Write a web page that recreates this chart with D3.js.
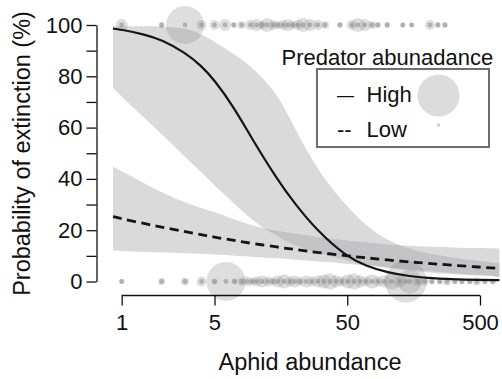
<!DOCTYPE html>
<html>
<head>
<meta charset="utf-8">
<title>Aphid extinction</title>
<script src="https://cdn.jsdelivr.net/npm/d3@7"></script>
<style>
  body { margin: 0; background: #fff; }
  text { font-family: "Liberation Sans", Arial, Helvetica, sans-serif; fill: #111; }
</style>
</head>
<body>
<script>
// fitted curves + 95% bands (x = aphid abundance, y = % extinction)
var curveX    = [0.86, 1, 1.5, 2, 3, 4, 5, 7, 10, 15, 20, 30, 50, 70, 100, 150, 200, 300, 500, 700];
var highFit   = [98.6, 98.2, 96.3, 94.2, 89.3, 84, 78.5, 68, 54, 39.5, 30.5, 19.5, 9.5, 6, 3.5, 2, 1.4, 0.9, 0.6, 0.5];
var highUpper = [99.5, 99.5, 99.5, 99.4, 99, 96.5, 93.5, 88.8, 83, 73, 60, 43, 29, 21.5, 16, 12.5, 11, 9.5, 8, 7];
var highLower = [75.5, 72, 63.5, 57.5, 48.5, 42.5, 37.5, 30.5, 23, 17.5, 14, 11, 8.2, 6.4, 5.4, 4.2, 3.5, 2.8, 2.3, 1.8];
var lowFit    = [25.3, 24.5, 22.5, 21.2, 19.4, 18.2, 17.3, 16, 14.7, 13.4, 12.5, 11.3, 10, 9.2, 8.4, 7.6, 7.1, 6.4, 5.6, 5.1];
var lowUpper  = [44.8, 43, 38.1, 34.7, 30.8, 28.5, 27.2, 24.3, 21.5, 19.6, 18.7, 17.3, 16, 15.2, 14.4, 13.9, 13.6, 13.3, 13, 12.9];
var lowLower  = [12, 11.8, 11.5, 11.3, 11, 10.8, 10.5, 10.1, 9.6, 9, 8.5, 7.8, 6.9, 6.2, 5.5, 4.7, 4.1, 3.3, 2.5, 2];

// raw observations: extinct (100%) and persisting (0%), size = predator abundance
var extinctAphid = [1, 2, 3, 4, 5, 6, 7, 8, 9.3, 10.4, 11.4, 12.4, 13.8, 15, 16.4, 17.9, 19.5, 21.3, 23.2, 26.2, 30, 34, 44, 54, 60, 68, 77, 85, 100, 131, 153, 210, 241, 272];
var extinctPred  = [3.3, 0.8, 32.7, 2.3, 2.3, 3.3, 0.8, 1.5, 2.3, 3.3, 1.5, 4.4, 2.3, 1.5, 2.3, 3.3, 1.5, 2.3, 4.4, 3.3, 2.3, 1.5, 0.8, 2.3, 4.4, 3.3, 1.5, 0.8, 0.8, 0.6, 0.6, 2.3, 0.8, 0.8];
var survAphid = [1, 2, 3, 4, 5, 6.1, 7.1, 8, 8.8, 9.6, 10.4, 11.4, 12.6, 13.8, 15, 16.7, 18.5, 20.2, 22, 24.4, 27.1, 30.1, 33.4, 37, 41.1, 45.6, 50.6, 56.1, 62.3, 69.1, 76.7, 85.1, 94.4, 108, 125, 138, 148, 170, 192, 217, 249, 282, 323, 365, 419, 473, 543, 624];
var survPred  = [0.6, 1.1, 1.5, 2.3, 0.8, 34.5, 0.8, 1.5, 2.3, 1.5, 2.3, 3.3, 2.3, 1.5, 3.3, 4.4, 2.3, 3.3, 1.5, 3.3, 2.3, 3.3, 4.4, 5.8, 3.3, 2.3, 4.4, 5.8, 3.3, 2.3, 4.4, 2.3, 3.3, 5.8, 3.3, 40, 13, 2.3, 1.5, 0.8, 0.8, 1.5, 0.8, 0.8, 0.8, 1.5, 0.8, 0.8];

var xTicks = [1, 5, 50, 500];
var yTicks = [0, 10, 20, 30, 40, 50, 60, 70, 80, 90, 100];
var legendTitle = "Predator abunadance";
var legendLabels = ["High", "Low"];
var legendPred = [40, 0.3];

var W = 502, H = 379;
var font = "'Liberation Sans', Arial, Helvetica, sans-serif";

var svg = d3.select("body").append("svg")
  .attr("width", W)
  .attr("height", H);

var x = d3.scaleLog().domain([1, 500]).range([121.7, 480]);
var y = d3.scaleLinear().domain([0, 100]).range([281.5, 25]);
var r = d3.scaleSqrt().domain([0, 40]).range([0, 21]);

function rows(vals) {
  return curveX.map(function(d, i) { return {x: d, v: vals[i]}; });
}
function bandRows(lo, hi) {
  return curveX.map(function(d, i) { return {x: d, lo: lo[i], hi: hi[i]}; });
}

var area = d3.area()
  .x(function(d) { return x(d.x); })
  .y0(function(d) { return y(d.lo); })
  .y1(function(d) { return y(d.hi); })
  .curve(d3.curveBasis);

var line = d3.line()
  .x(function(d) { return x(d.x); })
  .y(function(d) { return y(d.v); })
  .curve(d3.curveBasis);

// bands
svg.append("path").datum(bandRows(highLower, highUpper))
  .attr("d", area).attr("fill", "#a8a8aa").attr("fill-opacity", 0.42);
svg.append("path").datum(bandRows(lowLower, lowUpper))
  .attr("d", area).attr("fill", "#a8a8aa").attr("fill-opacity", 0.42);

// observations
function drawPoints(aph, pred, val) {
  var pts = aph.map(function(a, i) { return {a: a, p: pred[i]}; });
  var g = svg.append("g");
  g.selectAll("circle.halo").data(pts).enter().append("circle")
    .attr("class", "halo")
    .attr("cx", function(d) { return x(d.a); })
    .attr("cy", y(val))
    .attr("r", function(d) { return r(d.p); })
    .attr("fill", "#8a8a8a").attr("fill-opacity", 0.28);
  g.selectAll("circle.dot").data(pts).enter().append("circle")
    .attr("class", "dot")
    .attr("cx", function(d) { return x(d.a); })
    .attr("cy", y(val))
    .attr("r", 2.4)
    .attr("fill", "#8a8a8a").attr("fill-opacity", 0.55);
}
drawPoints(extinctAphid, extinctPred, 100);
drawPoints(survAphid, survPred, 0);

// fitted lines
svg.append("path").datum(rows(highFit))
  .attr("d", line).attr("fill", "none")
  .attr("stroke", "#151515").attr("stroke-width", 2.2);
svg.append("path").datum(rows(lowFit))
  .attr("d", line).attr("fill", "none")
  .attr("stroke", "#151515").attr("stroke-width", 2.8)
  .attr("stroke-dasharray", "9,5.5");

// axes
var yAxis = svg.append("g")
  .attr("transform", "translate(96.5,0)")
  .call(d3.axisLeft(y).tickValues(yTicks).tickSize(10).tickSizeOuter(0).tickPadding(4)
    .tickFormat(function(d) { return d % 20 === 0 ? d : ""; }));
yAxis.attr("font-size", 22).attr("font-family", font).attr("color", "#111");
yAxis.selectAll("line, path").attr("stroke-width", 1.3);

var xAxis = svg.append("g")
  .attr("transform", "translate(0,295.5)")
  .call(d3.axisBottom(x).tickValues(xTicks).tickSize(10).tickPadding(9)
    .tickFormat(function(d) { return d; }));
xAxis.attr("font-size", 22).attr("font-family", font).attr("color", "#111");
xAxis.select(".domain").remove();
xAxis.selectAll("line").attr("stroke-width", 1.3);
xAxis.append("line")
  .attr("x1", x(1)).attr("x2", x(500))
  .attr("stroke", "#111").attr("stroke-width", 1.3);

// axis titles
svg.append("text")
  .attr("transform", "translate(30,153.5) rotate(-90)")
  .attr("text-anchor", "middle")
  .style("font-size", "23.5px")
  .text("Probability of extinction (%)");

svg.append("text")
  .attr("x", 310).attr("y", 370)
  .attr("text-anchor", "middle")
  .style("font-size", "23.5px")
  .text("Aphid abundance");

// legend
var lg = svg.append("g").attr("id", "legend");
lg.append("text")
  .attr("x", 281.5).attr("y", 65)
  .style("font-size", "22px")
  .text(legendTitle);
lg.append("rect")
  .attr("x", 317).attr("y", 69)
  .attr("width", 172).attr("height", 78)
  .attr("fill", "none").attr("stroke", "#6e6e6e").attr("stroke-width", 2);

var marks = ["\u2014", "--"];
var markSize = ["17px", "22px"];
var rowY = [101.5, 136.5];
for (let i = 0; i < legendLabels.length; i++) {
  lg.append("text")
    .attr("x", 337).attr("y", rowY[i] - (i === 0 ? 1 : 0))
    .style("font-size", markSize[i])
    .text(marks[i]);
  lg.append("text")
    .attr("x", 366.5).attr("y", rowY[i])
    .style("font-size", "22px")
    .text(legendLabels[i]);
  lg.append("circle")
    .attr("cx", 438.5).attr("cy", i === 0 ? 95.5 : 125)
    .attr("r", r(legendPred[i]))
    .attr("fill", "#8a8a8a").attr("fill-opacity", i === 0 ? 0.3 : 0.4);
}
</script>
</body>
</html>
